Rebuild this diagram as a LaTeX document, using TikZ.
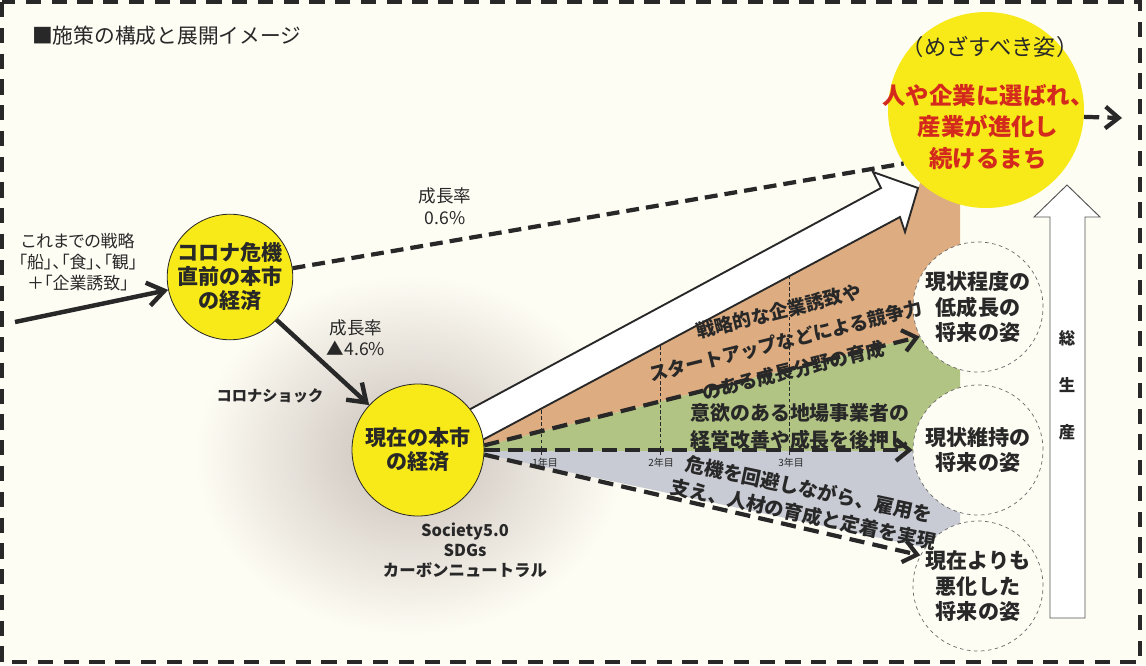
\documentclass[tikz,border=0pt]{standalone}
\usepackage{fontspec}
\setmainfont{Noto Sans CJK JP}
\newfontfamily\jpp{Noto Sans CJK JP}[RawFeature=+palt]
\usepackage{tikz}
\usetikzlibrary{arrows.meta}
\definecolor{bg}{RGB}{254,253,244}
\definecolor{yel}{RGB}{247,234,24}
\definecolor{orng}{RGB}{221,172,128}
\definecolor{grn}{RGB}{178,196,132}
\definecolor{gry}{RGB}{200,203,212}
\definecolor{halo}{RGB}{200,190,184}
\definecolor{ink}{RGB}{40,40,40}
\definecolor{redtxt}{RGB}{212,42,30}

\begin{document}
\begin{tikzpicture}
    [
      x=0.03cm, y=-0.03cm,
      eco/.style = {circle, draw=ink, line width=0.7pt, fill=yel, inner sep=0pt, align=center, text=ink, font=\bfseries\fontsize{18}{20.5}\selectfont},
      future/.style = {circle, draw=ink!70, dashed, line width=0.6pt, fill=bg, minimum size=3.9cm, inner sep=0pt, align=center, text=ink, font=\bfseries\fontsize{18}{21.5}\selectfont},
      flow/.style = {draw=ink, line width=3.8pt, -{Straight Barb[length=5mm, width=7mm]}},
      trend/.style = {draw=ink, line width=3.6pt, dash pattern=on 11pt off 6pt},
      fan/.style = {draw=ink, line width=3.6pt, dash pattern=on 13pt off 7pt, -{Straight Barb[length=4mm, width=6.5mm]}},
      note/.style = {align=center, text=ink},
      year/.style = {text=ink, font=\fontsize{8.5}{9}\selectfont},
    ]

    \useasboundingbox (0,0) rectangle (1146,665);
    \fill[bg] (0,0) rectangle (1146,665);
    \shade[inner color=halo, outer color=bg] (410,455) ellipse [x radius=215, y radius=180];

    \fill[orng] (455,455) -- (918,188) -- (935,150) -- (960,150) -- (960,326) -- (484,446) -- cycle;
    \fill[grn] (484,446) -- (960,326) -- (960,451) -- (470,451) -- cycle;
    \fill[gry] (470,451) -- (960,451) -- (960,555) -- (484,454) -- cycle;

    \foreach \x/\y in {541/409, 660/345, 789/276}
      \draw[ink, line width=0.5pt, dash pattern=on 3pt off 2pt] (\x,455) -- (\x,\y);
    \node[year] (y1) at (545,463) {1年目};
    \node[year] (y2) at (661,463) {2年目};
    \node[year] (y3) at (791,463) {3年目};

    \draw[ink, fill=white, line width=1.6pt] (450,420) -- (881,188) -- (873,172) -- (918,188)
      -- (905,232) -- (900,217) -- (460,452) -- cycle;

    \draw[ink!80, fill=white, line width=0.8pt] (1050,618) -- (1050,217) -- (1034,217) -- (1067,185)
      -- (1100,217) -- (1085,217) -- (1085,618) -- cycle;
    \node[note, font=\bfseries\fontsize{14}{40}\selectfont] (gdp) at (1067,385) {総\\生\\産};

    \draw[ink, line width=3.4pt, dash pattern=on 13pt off 9pt] (2,2) rectangle (1140,662);

    \node[eco, minimum size=3.72cm] (c1) at (230,277) {コロナ危機\\直前の本市\\の経済};
    \node[eco, minimum size=3.96cm] (c2) at (418,450) {現在の本市\\の経済};
    \node[circle, fill=yel, minimum size=5.88cm] (goal) at (986,110) {};
    \node[future] (f1) at (978,307) {現状程度の\\低成長の\\将来の姿};
    \node[future] (f2) at (978,450) {現状維持の\\将来の姿};
    \node[future] (f3) at (978,586) {現在よりも\\悪化した\\将来の姿};

    \node[note, font=\fontsize{19}{22}\selectfont] (aim) at (990,47) {（めざすべき姿）};
    \node[align=center, text=redtxt, font=\bfseries\fontsize{20}{26.5}\selectfont] (goaltxt) at (988,127)
      {人や企業に選ばれ、\\産業が進化し\\続けるまち};
    \node[anchor=west, text=ink, font=\fontsize{17.7}{20}\selectfont] (title) at (28,36) {■施策の構成と展開イメージ};

    \coordinate (start) at (15,322);
    \coordinate (out) at (1122,118);
    \draw[flow] (start) -- (c1);
    \draw[flow] (c1) -- (c2);
    \draw[trend] (c1.8) -- (goal.213);
    \draw[fan] (goal.-4) -- (out);
    \draw[fan] (c2.4) -- (f1.207);
    \draw[fan] (c2.east) -- (f2.west);
    \draw[fan] (c2.-4) -- (f3.152);

    \node[note, font=\jpp\fontsize{14.5}{18.3}\selectfont] (past) at (78,262)
      {これまでの戦略\\「船」、「食」、「観」\\＋「企業誘致」};
    \node[note, font=\fontsize{15}{19}\selectfont] (rate1) at (445,206) {成長率\\0.6\%};
    \node[note, font=\fontsize{15}{18}\selectfont] (rate2) at (356,338) {成長率\\▲4.6\%};
    \node[text=ink, font=\bfseries\fontsize{13}{15}\selectfont] (shock) at (270,396) {コロナショック};
    \node[note, font=\bfseries\fontsize{14}{17}\selectfont] (trends) at (465,550) {Society5.0\\SDGs\\カーボンニュートラル};

    \node[note, rotate=14, font=\bfseries\fontsize{16}{26}\selectfont] (grow) at (786,341)
      {戦略的な企業誘致や\\スタートアップなどによる競争力\\のある成長分野の育成};
    \node[note, font=\bfseries\fontsize{17}{23}\selectfont] (keep) at (800,427)
      {意欲のある地場事業者の\\経営改善や成長を後押し};
    \node[note, rotate=-12, font=\bfseries\fontsize{16.5}{22}\selectfont] (hold) at (806,502)
      {危機を回避しながら、雇用を\\支え、人材の育成と定着を実現};
  \end{tikzpicture}
\end{document}
